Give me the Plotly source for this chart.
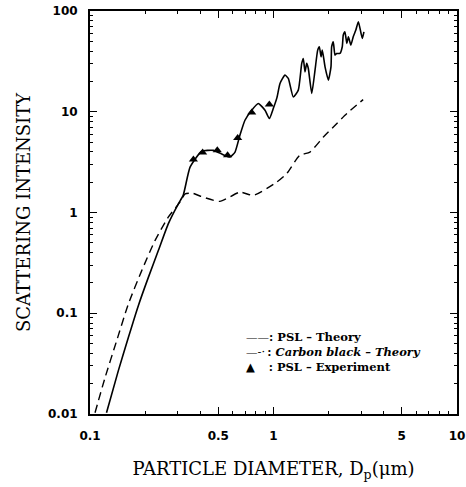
import plotly.graph_objects as go

# PSL - Theory (solid)
psl_x = [0.123, 0.1426, 0.1618, 0.1834, 0.208, 0.2357, 0.267, 0.303, 0.322, 0.351,
         0.406, 0.470, 0.532, 0.579, 0.617, 0.656, 0.699, 0.761, 0.826, 0.899,
         0.949, 0.997, 1.045, 1.085, 1.155, 1.204, 1.282, 1.365, 1.425, 1.453,
         1.485, 1.517, 1.548, 1.616, 1.684, 1.741, 1.778, 1.816, 1.845, 1.909,
         1.991, 2.057, 2.075, 2.117, 2.163, 2.21, 2.30, 2.37, 2.40, 2.45,
         2.51, 2.56, 2.64, 2.72, 2.81, 2.90, 3.00, 3.05, 3.11]
psl_y = [0.0103, 0.0268, 0.0574, 0.119, 0.227, 0.419, 0.772, 1.22, 1.48, 2.82,
         4.05, 4.14, 3.75, 3.55, 3.98, 5.84, 8.23, 10.35, 12.07, 10.35,
         8.56, 10.76, 13.9, 19.1, 23.1, 21.4, 14.0, 16.4, 30.2, 33.8,
         24.9, 30.2, 26.9, 15.2, 25.9, 40.9, 44.2, 35.1, 40.9, 27.9,
         20.6, 27.9, 44.2, 49.5, 36.5, 37.9, 37.9, 44.2, 57.7, 62.2,
         47.7, 55.5, 45.9, 55.5, 64.7, 78.3, 60.0, 53.5, 62.2]

# Carbon black - Theory (dashed)
cb_x = [0.1065, 0.1208, 0.1397, 0.1618, 0.1914, 0.226, 0.267, 0.309, 0.330, 0.364,
        0.40, 0.51, 0.656, 0.776, 1.04, 1.18, 1.39, 1.58, 1.87, 2.12, 2.51, 3.08]
cb_y = [0.0103, 0.0230, 0.0532, 0.1235, 0.265, 0.526, 0.898, 1.27, 1.53, 1.55,
        1.45, 1.29, 1.59, 1.48, 2.0, 2.43, 3.69, 3.98, 5.61, 7.06, 9.6, 13.2]

# PSL - Experiment (triangles)
exp_x = [0.366, 0.411, 0.494, 0.562, 0.638, 0.761, 0.949]
exp_y = [3.35, 3.93, 4.14, 3.69, 5.49, 9.82, 11.8]

x_ticks = [0.1, 0.5, 1, 5, 10]
x_ticklabels = ["0.1", "0.5", "1", "5", "10"]
y_ticks = [0.01, 0.1, 1, 10, 100]
y_ticklabels = ["0.01", "0.1", "1", "10", "100"]
minor_vals = [m * 10 ** e for e in (-2, -1, 0, 1) for m in range(2, 10)]

legend_samples = ["\u2014\u2014", "\u2014-\u00b7\u2009", "\u25b2\u2003\u2009"]
legend_labels = ["<b>: PSL \u2013 Theory</b>", "<b>: <i>Carbon black \u2013 Theory</i></b>",
                 "<b>: PSL \u2013 Experiment</b>"]

fig = go.Figure()
fig.add_trace(go.Scatter(x=psl_x, y=psl_y, mode="lines", name="PSL \u2013 Theory",
                         line=dict(color="black", width=1.6, shape="spline", smoothing=0.5)))
fig.add_trace(go.Scatter(x=cb_x, y=cb_y, mode="lines", name="Carbon black \u2013 Theory",
                         line=dict(color="black", width=1.4, dash="8px,5px", shape="spline", smoothing=0.6)))
fig.add_trace(go.Scatter(x=exp_x, y=exp_y, mode="markers", name="PSL \u2013 Experiment",
                         marker=dict(symbol="triangle-up", size=8, color="black")))

axis_common = dict(
    showline=True, linecolor="black", linewidth=2, mirror="allticks",
    ticks="inside", ticklen=7, tickwidth=1.2, tickcolor="black",
    showgrid=False, zeroline=False, automargin=False,
    tickfont=dict(family="DejaVu Sans", size=12, color="black", weight="bold"),
    minor=dict(ticks="inside", ticklen=3, tickwidth=1, tickcolor="black", tickvals=minor_vals),
)

fig.update_xaxes(type="log", range=[-1, 1], tickvals=x_ticks, ticktext=x_ticklabels,
                 ticklabelstandoff=10,
                 title=dict(text="PARTICLE DIAMETER, D<sub>p</sub>(\u03bcm)",
                            font=dict(family="DejaVu Serif", size=18, color="black"), standoff=20),
                 **axis_common)
fig.update_yaxes(type="log", range=[-2, 2], tickvals=y_ticks, ticktext=y_ticklabels,
                 ticklabelstandoff=8,
                 title=dict(text="SCATTERING INTENSITY",
                            font=dict(family="DejaVu Serif", size=18, color="black"), standoff=13),
                 **axis_common)

# legend drawn as one text block
legend_text = "<br>".join(s + l for s, l in zip(legend_samples, legend_labels))
fig.add_annotation(xref="paper", yref="paper", x=0.42, y=0.154, xanchor="left",
                   yanchor="middle", showarrow=False, align="left", text=legend_text,
                   font=dict(family="DejaVu Serif", size=11.5, color="black"))

fig.update_layout(
    width=466, height=487,
    margin=dict(l=90, r=9, t=11, b=73),
    paper_bgcolor="white", plot_bgcolor="white",
    showlegend=False,
)

fig.write_html("out.html", config={"displayModeBar": False},
               post_script="document.body.style.margin='0';")
